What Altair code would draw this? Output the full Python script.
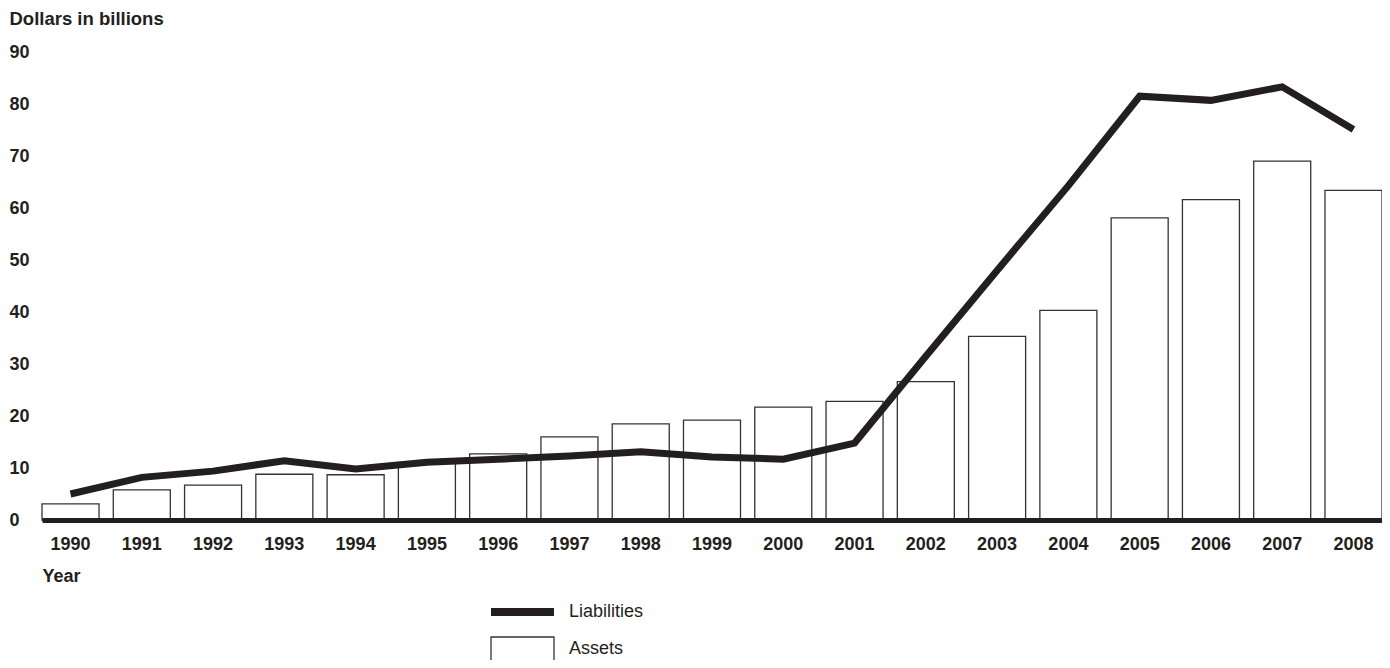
import altair as alt
import pandas as pd

years = [str(y) for y in range(1990, 2009)]
assets = [3.1, 5.8, 6.7, 8.8, 8.7, 11.0, 12.7, 16.0, 18.5, 19.2, 21.7, 22.8,
          26.6, 35.3, 40.3, 58.1, 61.6, 69.0, 63.4]
liabilities = [5.0, 8.2, 9.4, 11.4, 9.8, 11.1, 11.7, 12.3, 13.1, 12.1, 11.7, 14.8,
               31.5, 48.0, 64.3, 81.5, 80.7, 83.3, 75.1]
legend_labels = ["Liabilities", "Assets"]
y_ticks = [0, 10, 20, 30, 40, 50, 60, 70, 80, 90]

FONT = "Liberation Sans"
INK = "#231f20"

df = pd.DataFrame({"year": years, "assets": assets, "liabilities": liabilities})

xenc = alt.X(
    "year:O",
    sort=years,
    scale=alt.Scale(paddingInner=0.2, paddingOuter=0),
    axis=alt.Axis(
        title="Year", titleX=0, titleY=61.7, titleAlign="left", titleAnchor="start",
        titleBaseline="alphabetic", titleFont=FONT, titleFontSize=18,
        titleFontWeight="bold", titleColor=INK,
        labelAngle=0, labelFont=FONT, labelFontSize=18, labelFontWeight="bold",
        labelColor=INK, labelPadding=29.3, labelBaseline="alphabetic",
        ticks=False, tickSize=0, domainColor=INK, domainWidth=5, zindex=1,
        grid=False,
    ),
)

yscale = alt.Scale(domain=[0, 90], nice=False, zero=True)

bars = alt.Chart(df).mark_bar(fill="white", stroke="#333333", strokeWidth=1.3).encode(
    x=xenc,
    y=alt.Y(
        "assets:Q",
        scale=yscale,
        axis=alt.Axis(
            title="Dollars in billions", titleAngle=0, titleX=-33, titleY=-27.3,
            titleAlign="left", titleBaseline="alphabetic", titleFont=FONT,
            titleFontSize=18.5, titleFontWeight="bold", titleColor=INK,
            values=y_ticks, labelAlign="left", labelPadding=33, labelFont=FONT,
            labelFontSize=18, labelFontWeight="bold", labelColor=INK,
            ticks=False, tickSize=0, domain=False, grid=False,
        ),
    ),
)

line = alt.Chart(df).mark_line(
    color=INK, strokeWidth=7, strokeJoin="miter", strokeCap="butt"
).encode(
    x=alt.X("year:O", sort=years),
    y=alt.Y("liabilities:Q", scale=yscale),
)

leg1 = pd.DataFrame({"label": [legend_labels[0]]})
leg2 = pd.DataFrame({"label": [legend_labels[1]]})

leg_line = alt.Chart(leg1).mark_rect(fill=INK).encode(
    x=alt.value(449), x2=alt.value(512), y=alt.value(556), y2=alt.value(564)
)
leg_line_text = alt.Chart(leg1).mark_text(
    align="left", baseline="middle", font=FONT, fontSize=18, color=INK
).encode(x=alt.value(527), y=alt.value(559.5), text="label:N")

leg_box = alt.Chart(leg2).mark_rect(fill="white", stroke="#333333", strokeWidth=1.3).encode(
    x=alt.value(449), x2=alt.value(512), y=alt.value(585), y2=alt.value(616)
)
leg_box_text = alt.Chart(leg2).mark_text(
    align="left", baseline="middle", font=FONT, fontSize=18, color=INK
).encode(x=alt.value(527), y=alt.value(597), text="label:N")

chart = alt.layer(bars, line, leg_line, leg_line_text, leg_box, leg_box_text).properties(
    width=1340,
    height=468,
    padding={"left": 34, "top": 44, "right": 0, "bottom": 140},
    autosize=alt.AutoSizeParams(type="none"),
    background="white",
).configure_view(stroke=None)

chart.save("out.html", embed_options={"renderer": "svg", "actions": False})
